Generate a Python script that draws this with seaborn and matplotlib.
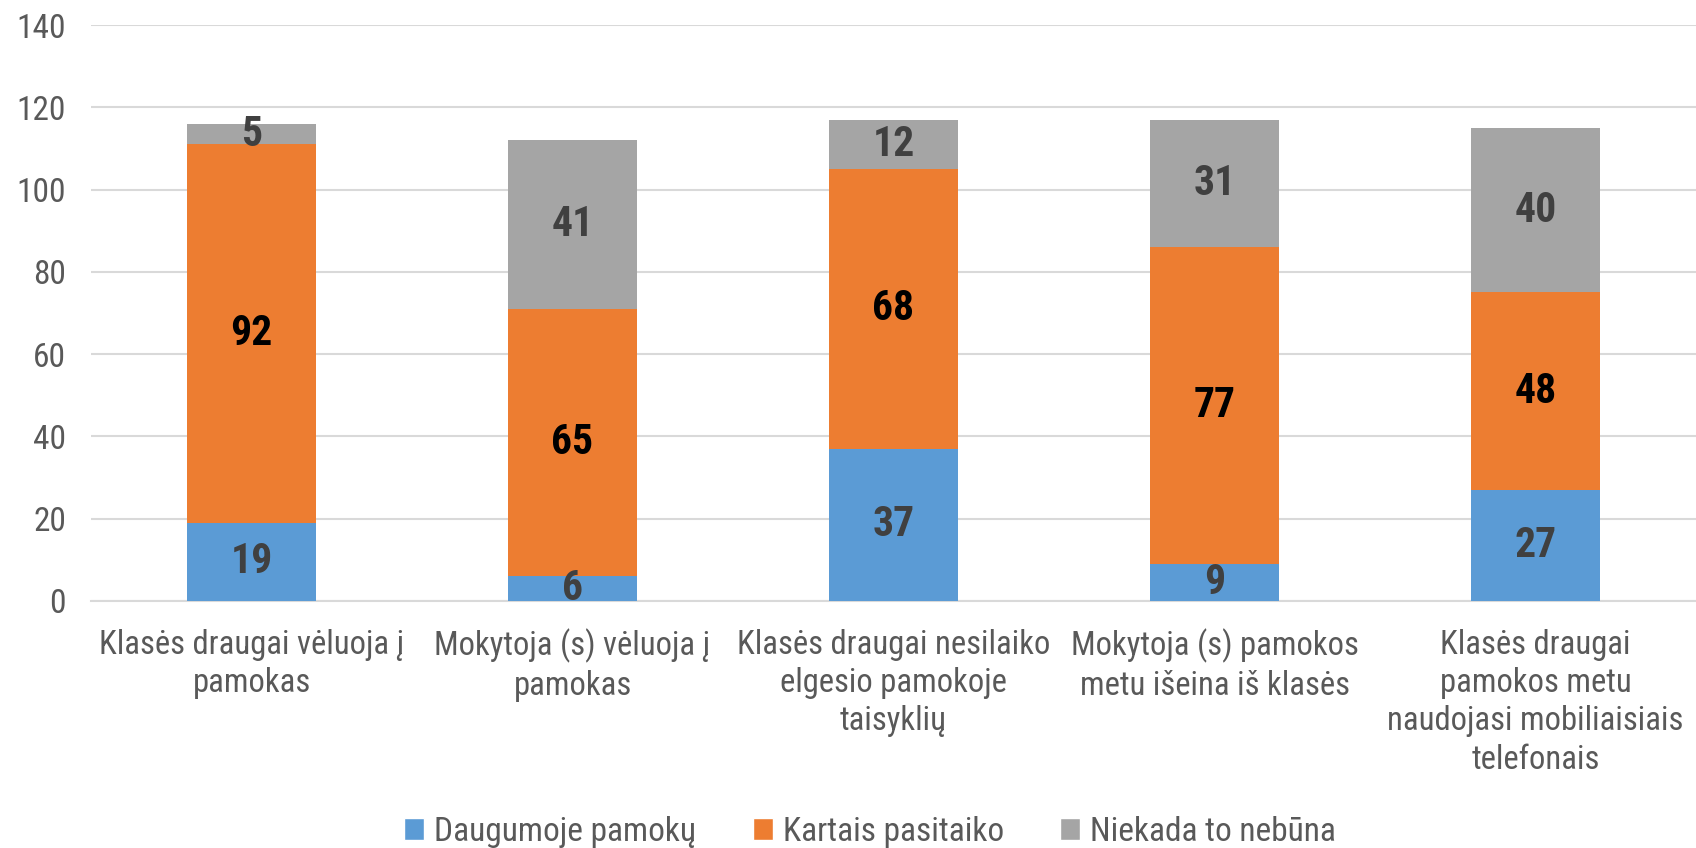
import matplotlib
matplotlib.use("Agg")
import matplotlib.pyplot as plt
from matplotlib import font_manager
import seaborn as sns
import pandas as pd
import numpy as np
from matplotlib.patches import Patch

categories = [
    "Klasės draugai vėluoja į\npamokas",
    "Mokytoja (s) vėluoja į\npamokas",
    "Klasės draugai nesilaiko\nelgesio pamokoje\ntaisyklių",
    "Mokytoja (s) pamokos\nmetu išeina iš klasės",
    "Klasės draugai\npamokos metu\nnaudojasi mobiliaisiais\ntelefonais",
]
daugumoje = [19, 6, 37, 9, 27]
kartais = [92, 65, 68, 77, 48]
niekada = [5, 41, 12, 31, 40]
series_names = ["Daugumoje pamokų", "Kartais pasitaiko", "Niekada to nebūna"]
colors = ["#5B9BD5", "#ED7D31", "#A5A5A5"]

sns.set_theme(style="white")
available = {f.name for f in font_manager.fontManager.ttflist}
family = "DejaVu Sans"
for cand in ["Liberation Sans Narrow", "Roboto Condensed", "Open Sans Condensed", "Lato"]:
    if cand in available:
        family = cand
        break
plt.rcParams["font.family"] = [family, "DejaVu Sans"]

df = pd.DataFrame({"cat": categories, "a": daugumoje, "b": kartais, "c": niekada})
df["ab"] = df["a"] + df["b"]
df["abc"] = df["ab"] + df["c"]

fig = plt.figure(figsize=(16.96, 8.48), dpi=100)
ax = fig.add_axes([0.0537, 0.2913, 0.9463, 0.6792])

width = 0.4
kw = dict(width=width, ax=ax, saturation=1, linewidth=0, zorder=3)
sns.barplot(data=df, x="cat", y="abc", color=colors[2], **kw)
sns.barplot(data=df, x="cat", y="ab", color=colors[1], **kw)
sns.barplot(data=df, x="cat", y="a", color=colors[0], **kw)

for i in range(len(categories)):
    a, b, c = daugumoje[i], kartais[i], niekada[i]
    ax.text(i, a / 2, str(a), ha="center", va="center", fontsize=30, fontweight="bold", color="#404040", zorder=5)
    ax.text(i, a + b / 2, str(b), ha="center", va="center", fontsize=30, fontweight="bold", color="#000000", zorder=5)
    ax.text(i, a + b + c / 2, str(c), ha="center", va="center", fontsize=30, fontweight="bold", color="#404040", zorder=5)

ax.set_ylim(0, 140)
ax.set_xlim(-0.5, 4.5)
ax.set_yticks(np.arange(0, 141, 20))
ax.yaxis.grid(True, color="#D9D9D9", linewidth=1.5, zorder=0)
ax.set_axisbelow(True)
for s in ["top", "right", "left"]:
    ax.spines[s].set_visible(False)
ax.spines["bottom"].set_color("#D9D9D9")
ax.spines["bottom"].set_linewidth(1.5)
ax.set_xlabel("")
ax.set_ylabel("")
ax.tick_params(axis="y", labelsize=24, colors="#595959", length=0, pad=18)
ax.tick_params(axis="x", labelsize=23.5, colors="#595959", length=0, pad=20)
for lbl in ax.get_xticklabels():
    lbl.set_linespacing(1.25)

handles = [Patch(facecolor=colors[k], label=series_names[k]) for k in range(3)]
fig.legend(handles=handles, loc="lower center", bbox_to_anchor=(0.513, -0.035), ncol=3, frameon=False,
           fontsize=24, labelcolor="#595959", handlelength=0.6, handleheight=0.6, columnspacing=1.7, handletextpad=0.3)

fig.savefig("out.png", dpi=100)
